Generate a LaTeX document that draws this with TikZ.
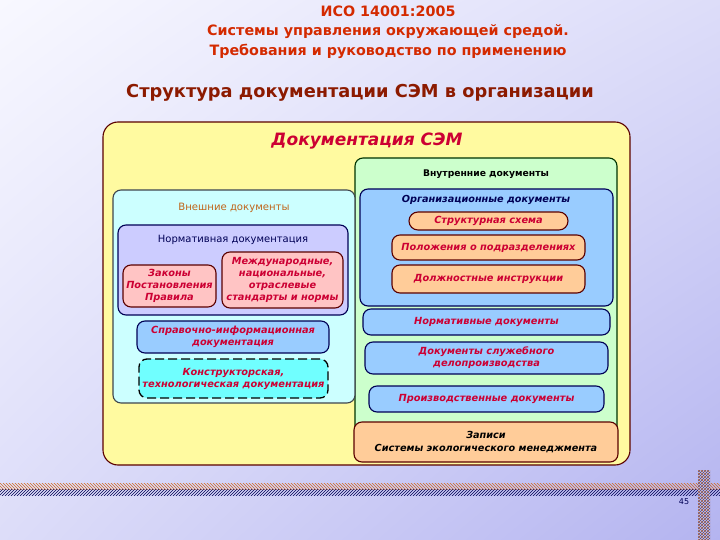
\documentclass[tikz,border=0pt]{standalone}
\usepackage{fontspec}
\setmainfont{DejaVu Sans}
\usepackage{tikz}
\usetikzlibrary{positioning,patterns,shadings}

\definecolor{bgtl}{HTML}{F8F8FF}
\definecolor{bgbr}{HTML}{B4B4F0}
\definecolor{ttlred}{HTML}{D42A00}
\definecolor{subred}{HTML}{8C1A00}
\definecolor{txtred}{HTML}{CC0033}
\definecolor{navy}{HTML}{000055}
\definecolor{maroon}{HTML}{5A0000}
\definecolor{yelfill}{HTML}{FFFAA0}
\definecolor{grnfill}{HTML}{CCFFCC}
\definecolor{bluefill}{HTML}{99CCFF}
\definecolor{peach}{HTML}{FFCC99}
\definecolor{cyanfill}{HTML}{CCFFFF}
\definecolor{lavfill}{HTML}{CCCCFF}
\definecolor{pinkfill}{HTML}{FFC4C4}
\definecolor{konfill}{HTML}{70FFFF}
\definecolor{brownlbl}{HTML}{C0651A}
\definecolor{hatchor}{HTML}{D2691E}

\begin{document}
\begin{tikzpicture}[x=1pt, y=-1pt,
    box/.style={draw, line width=1.1pt, rounded corners=8pt, inner sep=2pt, align=center},
    redtxt/.style={text=txtred, font=\fontsize{9.8}{12}\selectfont\bfseries\itshape},
    bluebox/.style={box, fill=bluefill, draw=navy, redtxt},
    peachbox/.style={box, fill=peach, draw=maroon, redtxt},
    pinkbox/.style={box, fill=pinkfill, draw=maroon, redtxt},
    hdr/.style={font=\fontsize{9.2}{11}\selectfont\bfseries}]
  % background
  \shade[upper left=bgtl, lower left=bgtl!60!bgbr, upper right=bgtl!60!bgbr, lower right=bgbr]
    (0,0) rectangle (720,540);
  \useasboundingbox (0,0) rectangle (720,540);

  % titles
  \node[text=ttlred, align=center, font=\fontsize{14.3}{19.5}\selectfont\bfseries] (ttl) at (388,32)
    {ИСО 14001:2005\\Системы управления окружающей средой.\\Требования и руководство по применению};
  \node[text=subred, font=\fontsize{17.8}{20}\selectfont\bfseries] (sub) at (360,93)
    {Структура документации СЭМ в организации};

  % containers
  \node[box, fill=yelfill, draw=maroon, rounded corners=15pt, minimum width=527pt, minimum height=343pt] (outer) at (366.5,293.5) {};
  \node[text=txtred, font=\fontsize{17}{19}\selectfont\bfseries\itshape] (outerlbl) at (367,141) {Документация СЭМ};

  \node[box, fill=grnfill, draw=black!80!green, minimum width=262pt, minimum height=297pt] (vnutr) at (486,306.5) {};
  \node[hdr] (vnutrlbl) at (486,174) {Внутренние документы};

  \node[box, fill=bluefill, draw=navy, minimum width=253pt, minimum height=117pt] (org) at (486.5,247.5) {};
  \node[text=navy, font=\fontsize{9.7}{11}\selectfont\bfseries\itshape] (orglbl) at (486,200) {Организационные документы};
  \node[peachbox, rounded corners=9pt, minimum width=159pt, minimum height=18pt] (struct) at (488.5,221) {Структурная схема};
  \node[peachbox, minimum width=193pt, minimum height=25pt] (polozh) at (488.5,247.5) {Положения о подразделениях};
  \node[peachbox, minimum width=193pt, minimum height=28pt] (dolzh) at (488.5,279) {Должностные инструкции};

  \node[bluebox, minimum width=247pt, minimum height=26pt] (normdoc) at (486.5,322) {Нормативные документы};
  \node[bluebox, minimum width=243pt, minimum height=32pt] (delo) at (486.5,358) {Документы служебного\\делопроизводства};
  \node[bluebox, minimum width=235pt, minimum height=26pt] (proizv) at (486.5,399) {Производственные документы};
  \node[box, fill=peach, draw=maroon, font=\fontsize{9.7}{12.5}\selectfont\bfseries\itshape, minimum width=264pt, minimum height=40pt] (zapisi) at (486,442)
    {Записи\\Системы экологического менеджмента};

  \node[box, fill=cyanfill, draw=black!80!cyan, minimum width=242pt, minimum height=213pt] (vnesh) at (234,296.5) {};
  \node[font=\fontsize{10.1}{12}\selectfont, text=brownlbl] (vneshlbl) at (234,208) {Внешние документы};

  \node[box, fill=lavfill, draw=navy, minimum width=230pt, minimum height=90pt] (normativ) at (233,270) {};
  \node[text=navy, font=\fontsize{10}{12}\selectfont] (normativlbl) at (233,240) {Нормативная документация};
  \node[pinkbox, minimum width=93pt, minimum height=42pt] (zakony) at (169.5,286) {Законы\\Постановления\\Правила};
  \node[pinkbox, minimum width=121pt, minimum height=56pt] (mezhd) at (282.5,280) {Международные,\\национальные,\\отраслевые\\стандарты и нормы};

  \node[bluebox, minimum width=192pt, minimum height=32pt] (sprav) at (233,337) {Справочно-информационная\\документация};
  \node[box, fill=konfill, draw=black, dashed, dash pattern=on 9pt off 4pt, line width=1.3pt, redtxt, minimum width=189pt, minimum height=39pt] (konstr) at (233.5,378.5)
    {Конструкторская,\\технологическая документация};

  % footer band
  \fill[pattern=north west lines, pattern color=hatchor] (0,483) rectangle (720,489);
  \fill[pattern=north east lines, pattern color=navy] (0,489) rectangle (720,495);
  \fill[bgbr!80!white] (698,470) rectangle (710,540);
  \fill[pattern=north west lines, pattern color=hatchor] (698,470) rectangle (710,540);
  \fill[pattern=north east lines, pattern color=navy!70] (698,470) rectangle (710,540);
  \node[font=\fontsize{8}{9}\selectfont, text=navy] (pagenum) at (684,502) {45};
\end{tikzpicture}
\end{document}
